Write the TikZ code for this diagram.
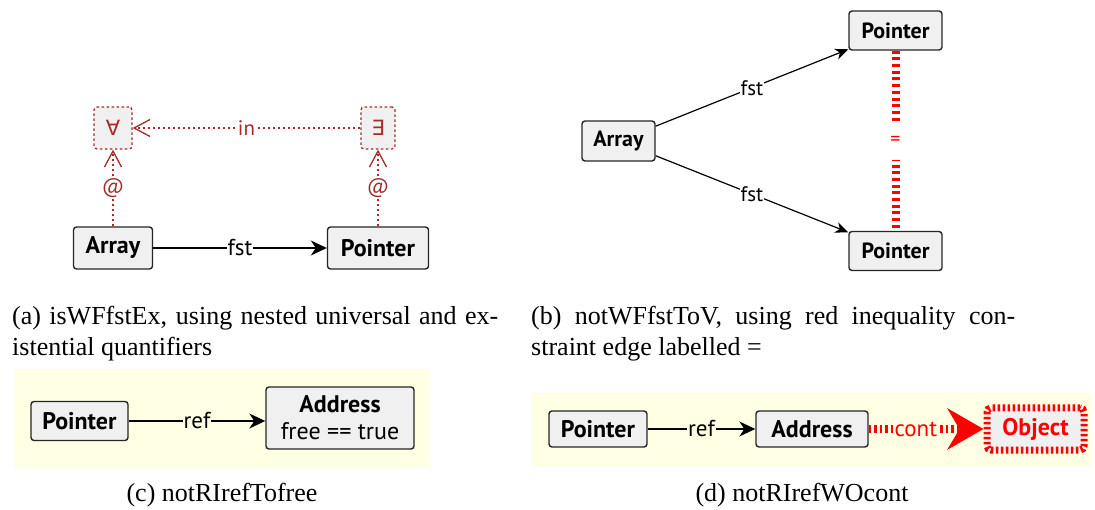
\documentclass[tikz,border=0pt]{standalone}
\usepackage{fontspec}
\setmainfont{Liberation Serif}
\newfontfamily\nodefont{PT Sans}
\newfontfamily\symfont{DejaVu Sans}
\usetikzlibrary{arrows.meta}
\definecolor{qred}{RGB}{165,42,42}
\definecolor{nodegray}{RGB}{240,240,240}
\definecolor{bgyellow}{RGB}{255,255,228}
\tikzset{
  box/.style={draw=black!85, line width=1.4pt, fill=nodegray, rounded corners=3pt,
    inner xsep=10pt, inner ysep=0pt, font=\nodefont\bfseries\fontsize{24}{27}\selectfont},
  boxb/.style={box, font=\nodefont\bfseries\fontsize{22}{26}\selectfont},
  qbox/.style={draw=qred, line width=1.3pt, dash pattern=on 2.5pt off 2.5pt, fill=nodegray,
    rounded corners=3pt, text=qred, inner sep=0pt, font=\symfont\fontsize{21}{24}\selectfont},
  objbox/.style={draw=red, line width=7pt, dash pattern=on 2.5pt off 2.5pt, fill=nodegray,
    rounded corners=4pt, text=red, inner sep=0pt, font=\nodefont\bfseries\fontsize{24}{27}\selectfont},
  elabel/.style={font=\nodefont\fontsize{23}{26}\selectfont, fill=white, inner sep=1pt},
  qlabel/.style={font=\nodefont\fontsize{21}{24}\selectfont, text=qred, fill=white, inner sep=1pt},
  neqlabel/.style={font=\nodefont\fontsize{20}{24}\selectfont, text=red, fill=white, inner sep=0pt, minimum height=38pt},
  clabel/.style={font=\nodefont\fontsize{23}{26}\selectfont, text=red, fill=bgyellow, inner sep=1pt},
  edge/.style={draw=black, line width=1.2pt, -{Stealth[length=16pt,width=15pt,inset=5pt]}},
  edgeb/.style={draw=black, line width=1.2pt, -{Stealth[length=13pt,width=11pt,inset=4pt]}},
  qedge/.style={draw=qred, line width=1.3pt, dash pattern=on 2.5pt off 2.5pt,
    -{Straight Barb[length=16pt,width=17pt,line width=1.3pt]}},
  neq/.style={draw=red, line width=8pt, dash pattern=on 3pt off 3.7pt},
  contedge/.style={draw=red, line width=8pt, dash pattern=on 2.5pt off 3pt,
    -{Stealth[length=36pt,width=41pt,inset=12pt]}},
  caption/.style={font=\fontsize{26}{31}\selectfont, inner sep=0pt},
}
\begin{document}
\begin{tikzpicture}[x=1pt,y=-1pt]
\useasboundingbox (0,0) rectangle (1095,510);
\fill[white] (0,0) rectangle (1095,510);
% ---------- (a)
\node[box, minimum height=42pt, minimum width=79pt] (arrA) at (113,248) {Array};
\node[box, minimum height=42pt, minimum width=101pt] (ptrA) at (378,248) {Pointer};
\node[qbox, minimum width=38pt, minimum height=42pt] (fa) at (113,128) {∀};
\node[qbox, minimum width=34pt, minimum height=42pt] (ex) at (378,128) {∃};
\draw[edge] (arrA) -- node[elabel]{fst} (ptrA);
\draw[qedge] (arrA) -- node[qlabel]{@} (fa);
\draw[qedge] (ptrA) -- node[qlabel]{@} (ex);
\draw[qedge] (ex) -- node[qlabel]{in} (fa);
% ---------- (b)
\node[boxb, minimum height=39pt, minimum width=93pt] (ptrT) at (895.5,30.5) {Pointer};
\node[boxb, minimum height=39pt, minimum width=93pt] (ptrB) at (895.5,251) {Pointer};
\node[boxb, minimum height=40pt, minimum width=73pt] (arrB) at (618.5,141) {Array};
\draw[edgeb] (arrB) -- node[elabel, font=\nodefont\fontsize{21}{24}\selectfont]{fst} (ptrT);
\draw[edgeb] (arrB) -- node[elabel, font=\nodefont\fontsize{21}{24}\selectfont]{fst} (ptrB);
\draw[neq] (ptrT) -- node[neqlabel]{=} (ptrB);
% ---------- (c)
\fill[bgyellow] (14,369) rectangle (430,467);
\node[box, minimum height=39pt, minimum width=97pt] (ptrC) at (79.5,421) {Pointer};
\node[box, align=center, minimum height=62pt, minimum width=148pt] (addrC) at (340,418)
  {Address\\{\mdseries free == true}};
\draw[edge] (ptrC) -- node[elabel, fill=bgyellow]{ref} (ptrC -| addrC.west);
% ---------- (d)
\fill[bgyellow] (532,393) rectangle (1091,466);
\node[box, minimum height=36pt, minimum width=98pt] (ptrD) at (598,429) {Pointer};
\node[box, minimum height=36pt, minimum width=112pt] (addrD) at (812,429) {Address};
\node[objbox, minimum height=42pt, minimum width=97pt] (obj) at (1035.5,429) {Object};
\draw[edge] (ptrD) -- node[elabel, fill=bgyellow]{ref} (addrD);
\draw[contedge] (addrD) -- node[pos=0.41, clabel]{cont} (obj);
% ---------- captions
\node[caption, anchor=base west] (capA1) at (12,325)
  {\makebox[486pt][s]{(a) isWFfstEx, using nested universal and ex-}};
\node[caption, anchor=base west] (capA2) at (12,356) {istential quantifiers};
\node[caption, anchor=base west] (capB1) at (531,325)
  {\makebox[484pt][s]{(b) notWFfstToV, using red inequality con-}};
\node[caption, anchor=base west] (capB2) at (531,356) {straint edge labelled =};
\node[caption, anchor=base] (capC) at (222,501) {(c) notRIrefTofree};
\node[caption, anchor=base] (capD) at (802,501) {(d) notRIrefWOcont};
\end{tikzpicture}
\end{document}
